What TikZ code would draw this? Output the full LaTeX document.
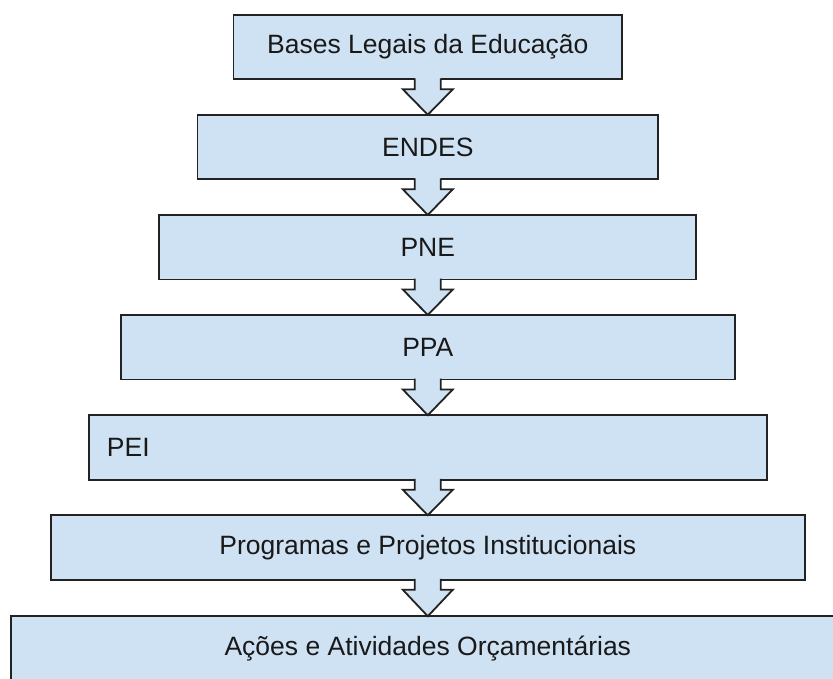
\documentclass[tikz,border=0pt]{standalone}
\usepackage{fontspec}
\setmainfont{Liberation Sans}
\usetikzlibrary{calc}
\definecolor{boxfill}{HTML}{CFE2F3}
\definecolor{edgecol}{HTML}{222222}
\tikzset{
  stage/.style={draw=edgecol, fill=boxfill, line width=1.8pt, minimum height=64.5pt,
    inner sep=0pt, outer sep=0pt, font=\fontsize{26.5}{30}\selectfont, text=black!90},
  flowline/.style={draw=edgecol, line width=1.8pt, line join=miter},
}
\begin{document}
\begin{tikzpicture}[x=1pt,y=1pt]
\useasboundingbox (0,0) rectangle (833,679);
\fill[white] (0,0) rectangle (833,679);
\clip (0,0) rectangle (833,679);
\node[stage, minimum width=388.5pt] (b1) at (427.8,632) {Bases Legais da Educação};
\node[stage, minimum width=460.6pt] (b2) at (427.8,532) {ENDES};
\node[stage, minimum width=537pt] (b3) at (427.8,431.8) {PNE};
\node[stage, minimum width=613.7pt] (b4) at (427.8,331.8) {PPA};
\node[stage, minimum width=677.7pt, text width=641.7pt, align=left] (b5) at (427.8,231.5) {PEI};
\node[stage, minimum width=754.3pt] (b6) at (427.8,131.5) {Programas e Projetos Institucionais};
\node[stage, minimum width=833.6pt] (b7) at (427.8,30.5) {Ações e Atividades Orçamentárias};
\foreach \a/\b in {b1/b2,b2/b3,b3/b4,b4/b5,b5/b6,b6/b7}{
  \fill[boxfill] ($(\a.south)+(-13,1.2)$) -- ($(\a.south)+(-13,-10)$) -- ($(\a.south)+(-25,-10)$)
    -- (\b.north) -- ($(\a.south)+(25,-10)$) -- ($(\a.south)+(13,-10)$) -- ($(\a.south)+(13,1.2)$) -- cycle;
  \draw[flowline] ($(\a.south)+(-13,0.9)$) -- ($(\a.south)+(-13,-10)$) -- ($(\a.south)+(-25,-10)$)
    -- (\b.north) -- ($(\a.south)+(25,-10)$) -- ($(\a.south)+(13,-10)$) -- ($(\a.south)+(13,0.9)$);
}
\end{tikzpicture}
\end{document}
